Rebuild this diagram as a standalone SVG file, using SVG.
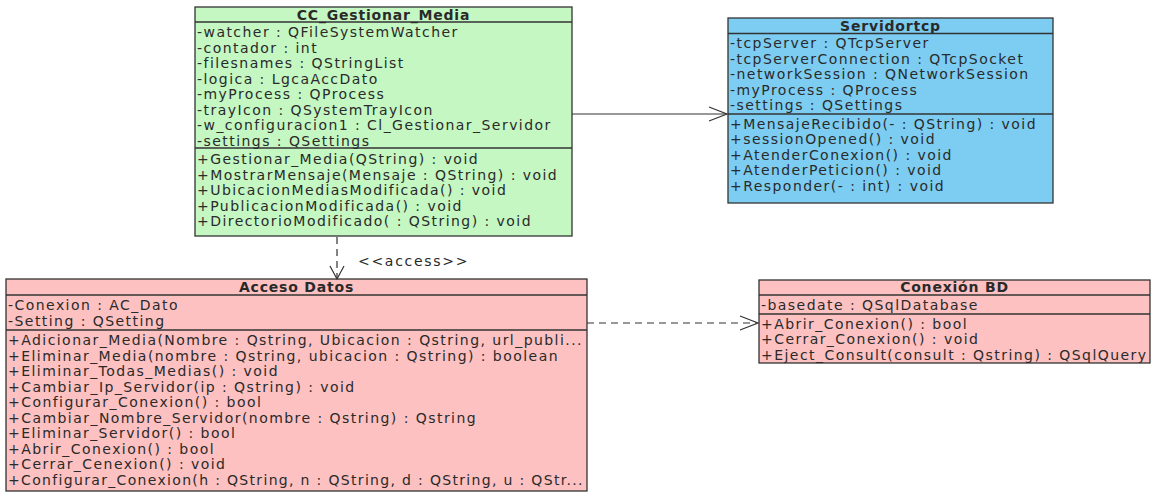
<svg xmlns="http://www.w3.org/2000/svg" width="1152" height="495" viewBox="0 0 1152 495">
  <style>
    .box { stroke: #333; stroke-width: 1.3; }
    .sep { stroke: #333; stroke-width: 1.3; }
    .green { fill: #c4f7c2; }
    .blue { fill: #7ccdf1; }
    .pink { fill: #fdc1c1; }
    text { font-family: "DejaVu Sans", "Liberation Sans", sans-serif; fill: #2a2a2a; }
    .t { font-size: 14px; letter-spacing: 1.45px; }
    .h { font-size: 14px; font-weight: bold; text-anchor: middle; letter-spacing: 0.8px; }
    .lbl { font-size: 14px; letter-spacing: 1.7px; }
    .solid { stroke: #333; stroke-width: 1.2; fill: none; }
    .dash { stroke: #333; stroke-width: 1.2; fill: none; stroke-dasharray: 7 5; }
  </style>
  <rect width="1152" height="495" fill="#ffffff"/>

  <!-- class CC_Gestionar_Media -->
  <g id="cc-gestionar-media">
    <rect class="box green" x="195" y="7" width="377" height="229"/>
    <line class="sep" x1="195" y1="22" x2="572" y2="22"/>
    <line class="sep" x1="195" y1="148" x2="572" y2="148"/>
    <text class="h" x="383.5" y="19.5">CC_Gestionar_Media</text>
    <text class="t" x="197" y="37">-watcher : QFileSystemWatcher</text>
    <text class="t" x="197" y="52.5">-contador : int</text>
    <text class="t" x="197" y="68">-filesnames : QStringList</text>
    <text class="t" x="197" y="83.5">-logica : LgcaAccDato</text>
    <text class="t" x="197" y="99">-myProcess : QProcess</text>
    <text class="t" x="197" y="114.5">-trayIcon : QSystemTrayIcon</text>
    <text class="t" x="197" y="130">-w_configuracion1 : Cl_Gestionar_Servidor</text>
    <text class="t" x="197" y="145.5">-settings : QSettings</text>
    <text class="t" x="197" y="164">+Gestionar_Media(QString) : void</text>
    <text class="t" x="197" y="179.5">+MostrarMensaje(Mensaje : QString) : void</text>
    <text class="t" x="197" y="195">+UbicacionMediasModificada() : void</text>
    <text class="t" x="197" y="210.5">+PublicacionModificada() : void</text>
    <text class="t" x="197" y="226">+DirectorioModificado( : QString) : void</text>
  </g>

  <!-- class Servidortcp -->
  <g id="servidortcp">
    <rect class="box blue" x="728" y="18" width="325" height="185"/>
    <line class="sep" x1="728" y1="33.5" x2="1053" y2="33.5"/>
    <line class="sep" x1="728" y1="114" x2="1053" y2="114"/>
    <text class="h" x="890.5" y="31">Servidortcp</text>
    <text class="t" x="730" y="48">-tcpServer : QTcpServer</text>
    <text class="t" x="730" y="63.5">-tcpServerConnection : QTcpSocket</text>
    <text class="t" x="730" y="79">-networkSession : QNetworkSession</text>
    <text class="t" x="730" y="94.5">-myProcess : QProcess</text>
    <text class="t" x="730" y="110">-settings : QSettings</text>
    <text class="t" x="730" y="128.5">+MensajeRecibido(- : QString) : void</text>
    <text class="t" x="730" y="144">+sessionOpened() : void</text>
    <text class="t" x="730" y="159.5">+AtenderConexion() : void</text>
    <text class="t" x="730" y="175">+AtenderPeticion() : void</text>
    <text class="t" x="730" y="190.5">+Responder(- : int) : void</text>
  </g>

  <!-- class Acceso Datos -->
  <g id="acceso-datos">
    <rect class="box pink" x="6" y="279" width="581" height="212"/>
    <line class="sep" x1="6" y1="295" x2="587" y2="295"/>
    <line class="sep" x1="6" y1="330" x2="587" y2="330"/>
    <text class="h" x="296.5" y="292">Acceso Datos</text>
    <text class="t" x="8" y="310">-Conexion : AC_Dato</text>
    <text class="t" x="8" y="325.5">-Setting : QSetting</text>
    <text class="t" x="8" y="345">+Adicionar_Media(Nombre : Qstring, Ubicacion : Qstring, url_publi...</text>
    <text class="t" x="8" y="360.5">+Eliminar_Media(nombre : Qstring, ubicacion : Qstring) : boolean</text>
    <text class="t" x="8" y="376">+Eliminar_Todas_Medias() : void</text>
    <text class="t" x="8" y="391.5">+Cambiar_Ip_Servidor(ip : Qstring) : void</text>
    <text class="t" x="8" y="407">+Configurar_Conexion() : bool</text>
    <text class="t" x="8" y="422.5">+Cambiar_Nombre_Servidor(nombre : Qstring) : Qstring</text>
    <text class="t" x="8" y="438">+Eliminar_Servidor() : bool</text>
    <text class="t" x="8" y="453.5">+Abrir_Conexion() : bool</text>
    <text class="t" x="8" y="469">+Cerrar_Cenexion() : void</text>
    <text class="t" x="8" y="484.5" textLength="576" lengthAdjust="spacing">+Configurar_Conexion(h : QString, n : QString, d : QString, u : QStr...</text>
  </g>

  <!-- class Conexión BD -->
  <g id="conexion-bd">
    <rect class="box pink" x="759" y="280" width="391" height="83"/>
    <line class="sep" x1="759" y1="295" x2="1150" y2="295"/>
    <line class="sep" x1="759" y1="314" x2="1150" y2="314"/>
    <text class="h" x="954.5" y="292">Conexión BD</text>
    <text class="t" x="761" y="310">-basedate : QSqlDatabase</text>
    <text class="t" x="761" y="328.5">+Abrir_Conexion() : bool</text>
    <text class="t" x="761" y="344">+Cerrar_Conexion() : void</text>
    <text class="t" x="761" y="359.5">+Eject_Consult(consult : Qstring) : QSqlQuery</text>
  </g>

  <!-- connectors -->
  <g id="connectors">
    <!-- association to Servidortcp -->
    <line class="solid" x1="572" y1="114" x2="727" y2="114"/>
    <polyline class="solid" points="709,107 727,114 709,121"/>
    <!-- access dependency -->
    <line class="dash" x1="337" y1="237" x2="337" y2="278"/>
    <polyline class="solid" points="330,266 337,279 344,266"/>
    <text class="lbl" x="358" y="266">&lt;&lt;access&gt;&gt;</text>
    <!-- dependency to Conexión BD -->
    <line class="dash" x1="587" y1="323" x2="757" y2="323"/>
    <polyline class="solid" points="740,316 758,323 740,330"/>
  </g>
</svg>
